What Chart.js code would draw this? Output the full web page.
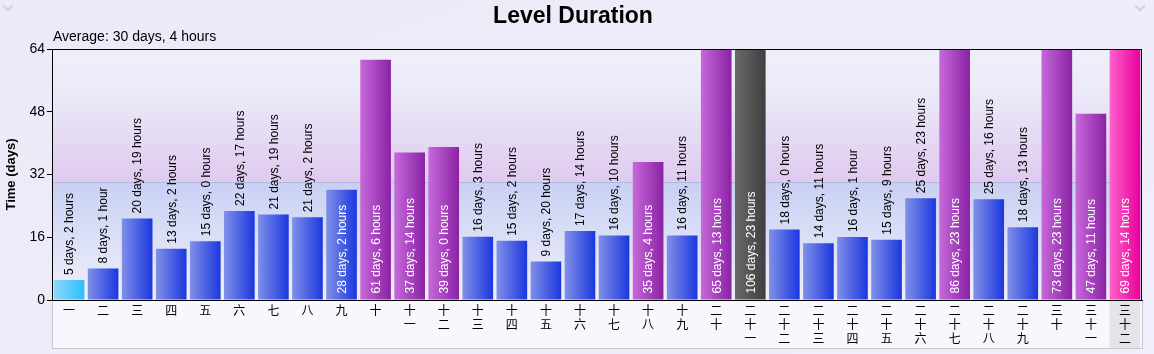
<!DOCTYPE html>
<html>
<head>
<meta charset="utf-8">
<script src="https://cdn.jsdelivr.net/npm/chart.js@4.4.0/dist/chart.umd.min.js"></script>
<style>
  html, body { margin: 0; padding: 0; background: linear-gradient(160deg, #ebeaf8, #efeffb); }
  #wrap { position: relative; width: 1154px; height: 354px; }
  .chev { position: absolute; top: 2px; width: 6px; height: 6px; border-right: 2px solid #d2d2de; border-bottom: 2px solid #d2d2de; transform: rotate(45deg); }
</style>
</head>
<body>
<div id="wrap">
  <canvas id="levelChart" width="1154" height="354"></canvas>
  <div class="chev" style="left:4px"></div>
  <div class="chev" style="left:1136px"></div>
</div>
<script>
const titleText = "Level Duration";
const categories = ["一", "二", "三", "四", "五", "六", "七", "八", "九", "十",
  "十一", "十二", "十三", "十四", "十五", "十六", "十七", "十八", "十九", "二十",
  "二十一", "二十二", "二十三", "二十四", "二十五", "二十六", "二十七", "二十八", "二十九", "三十",
  "三十一", "三十二"];
const days = [5, 8, 20, 13, 15, 22, 21, 21, 28, 61, 37, 39, 16, 15, 9, 17, 16, 35, 16, 65,
  106, 18, 14, 16, 15, 25, 86, 25, 18, 73, 47, 69];
const hours = [2, 1, 19, 2, 0, 17, 19, 2, 2, 6, 14, 0, 3, 2, 20, 14, 10, 4, 11, 13,
  23, 0, 11, 1, 9, 23, 23, 16, 13, 23, 11, 14];
const yTicks = [0, 16, 32, 48, 64];

const values = days.map((d, i) => d + hours[i] / 24);
const last = values.length - 1;
const past = values.slice(0, last);
const avg = past.reduce((s, v) => s + v, 0) / past.length;
const minV = Math.min(...past), maxV = Math.max(...past);

function fmt(v) {
  let d = Math.floor(v), h = Math.round((v - d) * 24);
  if (h === 24) { d++; h = 0; }
  return d + " days, " + h + (h === 1 ? " hour" : " hours");
}
const barLabels = days.map((d, i) => d + " days, " + hours[i] + (hours[i] === 1 ? " hour" : " hours"));

// left/right colour of each bar's gradient
function barColors(i) {
  if (i === last) return ["#ff62cc", "#e8009a"];
  if (values[i] === maxV) return ["#6a6a6a", "#3f3f3f"];
  if (values[i] === minV) return ["#8cd8f8", "#2cbeff"];
  if (values[i] > avg) return ["#c769da", "#8a22a4"];
  return ["#8190e8", "#1b37de"];
}

const BAR_PCT = 0.9;

const decor = {
  id: "decor",
  beforeDraw(chart) {
    const { ctx, chartArea: a, scales: { x, y } } = chart;
    ctx.save();
    // title + average
    ctx.fillStyle = "#000";
    ctx.font = "bold 23px Arial, 'Liberation Sans'";
    ctx.textAlign = "center";
    ctx.fillText(titleText, 573, 23);
    ctx.font = "14px Arial, 'Liberation Sans'";
    ctx.textAlign = "left";
    ctx.fillText("Average: " + fmt(avg), a.left + 1, 41);

    // label box below the plot
    ctx.fillStyle = "#f7f7fd";
    ctx.fillRect(a.left, a.bottom, a.right - a.left, 49);
    const bw = x.width / categories.length * BAR_PCT;
    const cx = x.getPixelForValue(last);
    ctx.fillStyle = "#e4e4ea";
    ctx.fillRect(cx - bw / 2, a.bottom + 1, bw, 47);
    ctx.strokeStyle = "#c6c6ce";
    ctx.lineWidth = 1;
    ctx.strokeRect(a.left + 0.5, a.bottom, a.right - a.left, 48.5);

    // bands above / below average
    const ya = y.getPixelForValue(avg);
    let g = ctx.createLinearGradient(0, a.top, 0, ya);
    g.addColorStop(0, "#efeffa");
    g.addColorStop(0.3, "#ecebf8");
    g.addColorStop(1, "#dfcaef");
    ctx.fillStyle = g;
    ctx.fillRect(a.left, a.top, a.right - a.left, ya - a.top);
    g = ctx.createLinearGradient(0, ya, 0, a.bottom);
    g.addColorStop(0, "#c8d0f3");
    g.addColorStop(1, "#f0f0fb");
    ctx.fillStyle = g;
    ctx.fillRect(a.left, ya, a.right - a.left, a.bottom - ya);
    ctx.strokeStyle = "#b3b6dc";
    ctx.beginPath();
    ctx.moveTo(a.left, Math.round(ya) + 0.5);
    ctx.lineTo(a.right, Math.round(ya) + 0.5);
    ctx.stroke();
    ctx.restore();
  },
  afterDatasetsDraw(chart) {
    const { ctx, chartArea: a } = chart;
    const meta = chart.getDatasetMeta(0);
    ctx.save();
    ctx.font = "12px Arial, 'Liberation Sans'";
    ctx.textBaseline = "middle";
    ctx.textAlign = "left";
    meta.data.forEach((bar, i) => {
      const text = barLabels[i];
      const w = ctx.measureText(text).width;
      const top = Math.max(bar.y, a.top);
      const h = bar.base - top;
      ctx.save();
      if (w + 12 <= h) {
        ctx.fillStyle = "#fff";
        ctx.translate(bar.x, bar.base - 6);
      } else {
        ctx.fillStyle = "#000";
        ctx.translate(bar.x, top - 5);
      }
      ctx.rotate(-Math.PI / 2);
      ctx.fillText(text, 0, 1);
      ctx.restore();
    });
    // frame
    ctx.strokeStyle = "#000";
    ctx.lineWidth = 1;
    ctx.strokeRect(a.left + 0.5, a.top + 0.5, a.right - a.left - 1, a.bottom - a.top);
    ctx.restore();
  }
};

const ctx = document.getElementById("levelChart").getContext("2d");
new Chart(ctx, {
  type: "bar",
  data: {
    labels: categories.map(c => c.split("")),
    datasets: [{
      data: values,
      barPercentage: BAR_PCT,
      categoryPercentage: 1,
      borderWidth: 0,
      backgroundColor: (c) => {
        const ch = c.chart;
        const cols = barColors(c.dataIndex);
        if (!ch.chartArea) return cols[1];
        const xs = ch.scales.x;
        const cx = xs.getPixelForValue(c.dataIndex);
        const bw = xs.width / categories.length * BAR_PCT;
        const g = ch.ctx.createLinearGradient(cx - bw / 2, 0, cx + bw / 2, 0);
        g.addColorStop(0, cols[0]);
        g.addColorStop(1, cols[1]);
        return g;
      }
    }]
  },
  options: {
    responsive: false,
    animation: false,
    layout: { padding: { top: 49, right: 12, bottom: 5, left: 0 } },
    plugins: {
      legend: { display: false },
      tooltip: { enabled: false },
      title: { display: false }
    },
    scales: {
      x: {
        grid: { display: false, drawTicks: false },
        border: { color: "#000", width: 1 },
        ticks: {
          color: "#000",
          maxRotation: 0,
          autoSkip: false,
          padding: 3,
          font: { family: "'Noto Sans CJK SC', sans-serif", size: 12, lineHeight: 1.17 }
        },
        afterFit: s => { s.height = 49; }
      },
      y: {
        min: 0,
        max: 64,
        afterBuildTicks: s => { s.ticks = yTicks.map(v => ({ value: v })); },
        grid: { drawOnChartArea: false, color: "#000", tickLength: 5 },
        border: { color: "#000", width: 1 },
        ticks: { color: "#000", padding: 2, font: { family: "Arial, 'Liberation Sans'", size: 14 } },
        title: {
          display: true,
          text: "Time (days)",
          color: "#000",
          padding: { top: 4, bottom: 4 },
          font: { family: "Arial, 'Liberation Sans'", size: 13, weight: "bold" }
        },
        afterFit: s => { s.width = 52; }
      }
    }
  },
  plugins: [decor]
});
</script>
</body>
</html>
